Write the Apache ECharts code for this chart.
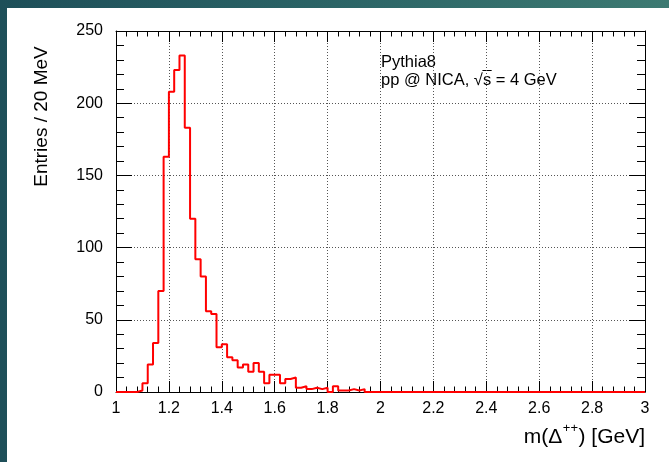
<!DOCTYPE html>
<html>
<head>
<meta charset="utf-8">
<script src="https://cdn.jsdelivr.net/npm/echarts@6/dist/echarts.min.js"></script>
<style>
  html, body { margin: 0; padding: 0; }
  #chart { width: 669px; height: 462px; }
</style>
</head>
<body>
<div id="chart"></div>
<script>
// Invariant mass of Delta++ candidates, 100 bins of 20 MeV between 1 and 3 GeV
const binStart = 1.0;
const binWidth = 0.02;
const counts = [
  0, 0, 0, 0, 1, 6, 19, 34, 70, 163,
  208, 223, 233, 183, 120, 92, 80, 56, 54, 31,
  33, 24, 22, 17, 19, 14, 20, 14, 6, 12,
  12, 6, 9, 10, 3, 4, 2, 3, 2, 3,
  0, 4, 1, 1, 2, 1, 2, 0, 0, 0,
  0, 0, 0, 0, 0, 0, 0, 0, 0, 0,
  0, 0, 0, 0, 0, 0, 0, 0, 0, 0,
  0, 0, 0, 0, 0, 0, 0, 0, 0, 0,
  0, 0, 0, 0, 0, 0, 0, 0, 0, 0,
  0, 0, 0, 0, 0, 0, 0, 0, 0, 0
];

// Axis ranges and major tick steps
const xRange = [1, 3];
const xStep = 0.2;
const yRange = [0, 250];
const yStep = 50;

const yTitle = 'Entries / 20 MeV';
const xTitleParts = ['m(\u0394', '++', ') [GeV]'];
const infoLine1 = 'Pythia8';
const infoLine2Parts = ['pp @ NICA, \u221A', 's', ' = 4 GeV'];

// Step outline: each point is a bin's low edge with its content, closed at the upper limit
const outline = counts.map((c, i) => [Math.round((binStart + i * binWidth) * 1000) / 1000, c]);
outline.push([xRange[1], counts[counts.length - 1]]);

const FONT = '"Liberation Sans", Arial, Helvetica, sans-serif';
const measureCtx = document.createElement('canvas').getContext('2d');
function textWidth(str, size) {
  measureCtx.font = size + 'px ' + FONT;
  return measureCtx.measureText(str).width;
}

const gridBox = { left: 116, top: 31, right: 24, bottom: 70 };
const plotRight = 669 - gridBox.right;

function axisCommon(showLabels, majorLen, minorLen) {
  return {
    axisLine: { show: true, onZero: false, lineStyle: { color: '#000', width: 1 } },
    axisTick: { show: true, inside: true, length: majorLen, lineStyle: { color: '#000', width: 1 } },
    minorTick: { show: true, splitNumber: 5, length: minorLen, lineStyle: { color: '#000', width: 1 } },
    axisLabel: {
      show: showLabels, color: '#000', fontFamily: FONT, fontSize: 16,
      showMinLabel: true, showMaxLabel: true
    }
  };
}

const gridLine = { show: true, lineStyle: { color: '#555', width: 1, type: [1, 2] } };

const xBottom = Object.assign({
  type: 'value', position: 'bottom', min: xRange[0], max: xRange[1], interval: xStep,
  splitLine: gridLine
}, axisCommon(true, 11, 5.5));
xBottom.axisLabel.margin = 9;

const xTop = Object.assign({
  type: 'value', position: 'top', min: xRange[0], max: xRange[1], interval: xStep,
  splitLine: { show: false }
}, axisCommon(false, 11, 5.5));

const yLeft = Object.assign({
  type: 'value', position: 'left', min: yRange[0], max: yRange[1], interval: yStep,
  splitLine: gridLine
}, axisCommon(true, 16, 8));
yLeft.axisLabel.margin = 13;

const yRight = Object.assign({
  type: 'value', position: 'right', min: yRange[0], max: yRange[1], interval: yStep,
  splitLine: { show: false }
}, axisCommon(false, 16, 8));

// Title pieces laid out right-to-left so the superscript sits between them
const xTitleSize = 21;
const xSupSize = 13;
const xTitleY = 437;
const wTail = textWidth(xTitleParts[2], xTitleSize);
const wSup = textWidth(xTitleParts[1], xSupSize);
const xTailLeft = plotRight - wTail;
const xSupLeft = xTailLeft - wSup - 0.5;

const infoSize = 16.5;
const info2Left = 381;
const info2Y = 80;
const wRad = textWidth(infoLine2Parts[0], infoSize);
const wS = textWidth(infoLine2Parts[1], infoSize);

const textBase = { fontFamily: FONT, fill: '#000' };

const chart = echarts.init(document.getElementById('chart'), null, { renderer: 'canvas' });
chart.setOption({
  animation: false,
  backgroundColor: '#ffffff',
  grid: Object.assign({ containLabel: false }, gridBox),
  xAxis: [xBottom, xTop],
  yAxis: [yLeft, yRight],
  graphic: [
    {
      type: 'rect', z: -10, silent: true,
      shape: { x: 0, y: 0, width: 669, height: 462 },
      style: {
        fill: {
          type: 'linear', x: 0, y: 0, x2: 1, y2: 0,
          colorStops: [
            { offset: 0, color: '#1e4f59' },
            { offset: 0.5, color: '#2b6466' },
            { offset: 1, color: '#3d7a72' }
          ]
        }
      }
    },
    {
      type: 'rect', z: -9, silent: true,
      shape: { x: 7, y: 8, width: 662, height: 454 },
      style: { fill: '#ffffff' }
    },
    {
      type: 'text', silent: true, x: 42, y: 116.5, rotation: Math.PI / 2,
      style: Object.assign({ text: yTitle, fontSize: 19, align: 'center', verticalAlign: 'middle' }, textBase)
    },
    {
      type: 'text', silent: true, x: xTailLeft, y: xTitleY,
      style: Object.assign({ text: xTitleParts[2], fontSize: xTitleSize, align: 'left', verticalAlign: 'middle' }, textBase)
    },
    {
      type: 'text', silent: true, x: xSupLeft, y: xTitleY - 9,
      style: Object.assign({ text: xTitleParts[1], fontSize: xSupSize, align: 'left', verticalAlign: 'middle' }, textBase)
    },
    {
      type: 'text', silent: true, x: xSupLeft - 0.5, y: xTitleY,
      style: Object.assign({ text: xTitleParts[0], fontSize: xTitleSize, align: 'right', verticalAlign: 'middle' }, textBase)
    },
    {
      type: 'text', silent: true, x: 381, y: 62,
      style: Object.assign({ text: infoLine1, fontSize: infoSize, align: 'left', verticalAlign: 'middle' }, textBase)
    },
    {
      type: 'text', silent: true, x: info2Left, y: info2Y,
      style: Object.assign({ text: infoLine2Parts[0], fontSize: infoSize, align: 'left', verticalAlign: 'middle' }, textBase)
    },
    {
      type: 'text', silent: true, x: info2Left + wRad, y: info2Y,
      style: Object.assign({ text: infoLine2Parts[1], fontSize: infoSize, align: 'left', verticalAlign: 'middle' }, textBase)
    },
    {
      type: 'line', silent: true,
      shape: { x1: info2Left + wRad - 0.5, y1: info2Y - 9.5, x2: info2Left + wRad + wS + 0.5, y2: info2Y - 9.5 },
      style: { stroke: '#000', lineWidth: 1 }
    },
    {
      type: 'text', silent: true, x: info2Left + wRad + wS, y: info2Y,
      style: Object.assign({ text: infoLine2Parts[2], fontSize: infoSize, align: 'left', verticalAlign: 'middle' }, textBase)
    }
  ],
  series: [{
    type: 'line',
    xAxisIndex: 0,
    yAxisIndex: 0,
    data: outline,
    step: 'end',
    symbol: 'none',
    clip: false,
    lineStyle: { color: '#ff0000', width: 2 },
    z: 5
  }]
});
</script>
</body>
</html>
